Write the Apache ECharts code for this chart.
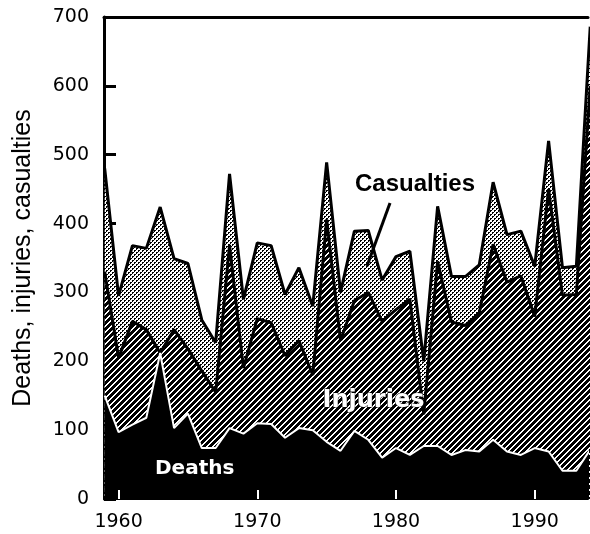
<!DOCTYPE html>
<html>
<head>
<meta charset="utf-8">
<script src="https://cdn.jsdelivr.net/npm/echarts@6/dist/echarts.min.js"></script>
<style>
  html, body { margin: 0; padding: 0; background: #fff; }
  #chart { width: 590px; height: 534px; }
</style>
</head>
<body>
<div id="chart"></div>
<script>
// data, one value per year
var years = [1959, 1960, 1961, 1962, 1963, 1964, 1965, 1966, 1967, 1968, 1969,
             1970, 1971, 1972, 1973, 1974, 1975, 1976, 1977, 1978, 1979,
             1980, 1981, 1982, 1983, 1984, 1985, 1986, 1987, 1988, 1989,
             1990, 1991, 1992, 1993, 1994];
var casualties = [480, 295, 368, 364, 424, 349, 342, 260, 227, 472, 290,
                  372, 368, 297, 336, 280, 489, 300, 389, 390, 318,
                  352, 360, 200, 425, 323, 323, 340, 460, 384, 389,
                  338, 520, 336, 338, 686];
var injuries = [330, 205, 258, 246, 212, 246, 218, 186, 155, 369, 190,
                262, 256, 208, 230, 180, 406, 230, 288, 300, 258,
                275, 290, 123, 345, 257, 252, 270, 370, 315, 324,
                265, 450, 296, 297, 600];
var deaths = [150, 97, 108, 118, 212, 103, 124, 74, 74, 103, 95,
              110, 109, 89, 103, 100, 83, 70, 99, 86, 60,
              74, 64, 77, 77, 64, 71, 69, 86, 69, 64,
              74, 69, 41, 41, 72];
var tickYears = [1960, 1970, 1980, 1990];

function pairs(vals) {
    return years.map(function (y, i) { return [y, vals[i]]; });
}

// stippled grey fill
function dotPattern() {
    var c = document.createElement('canvas');
    c.width = 4; c.height = 4;
    var g = c.getContext('2d');
    g.fillStyle = '#fff';
    g.fillRect(0, 0, 4, 4);
    g.fillStyle = '#000';
    g.fillRect(0, 0, 2, 1);
    g.fillRect(0, 1, 1, 1);
    g.fillRect(2, 2, 2, 1);
    g.fillRect(2, 3, 1, 1);
    return c;
}

// black with thin white "/" stripes
function hatchPattern() {
    var c = document.createElement('canvas');
    c.width = 6; c.height = 6;
    var g = c.getContext('2d');
    g.fillStyle = '#000';
    g.fillRect(0, 0, 6, 6);
    g.fillStyle = '#fff';
    for (var y = 0; y < 6; y++) {
        for (var x = 0; x < 6; x++) {
            var k = (x + y) % 6;
            if (k === 4 || k === 5) g.fillRect(x, y, 1, 1);
        }
    }
    return c;
}

var numFont = 'DejaVu Sans';
var chart = echarts.init(document.getElementById('chart'));

var option = {
    animation: false,
    backgroundColor: '#fff',
    grid: { left: 104, top: 17, width: 484, height: 482 },
    xAxis: [{
        type: 'value',
        min: 1958.95,
        max: 1993.84,
        z: 10,
        splitLine: { show: false },
        axisLine: { lineStyle: { color: '#000', width: 2 } },
        axisTick: { inside: true, length: 9, customValues: tickYears,
                    lineStyle: { color: '#fff', width: 2 } },
        axisLabel: { customValues: tickYears, margin: 14, color: '#000',
                     fontFamily: numFont, fontSize: 19,
                     formatter: function (v) { return String(v); } }
    }, {
        type: 'value',
        position: 'top',
        min: 1958.95,
        max: 1993.84,
        splitLine: { show: false },
        axisLine: { lineStyle: { color: '#000', width: 3 } },
        axisTick: { show: false },
        axisLabel: { show: false }
    }],
    yAxis: {
        type: 'value',
        min: 0,
        max: 700,
        interval: 100,
        name: 'Deaths, injuries, casualties',
        nameLocation: 'middle',
        nameGap: 68,
        nameTextStyle: { color: '#000', fontFamily: 'Liberation Sans', fontSize: 25 },
        splitLine: { show: false },
        axisLine: { show: true, lineStyle: { color: '#000', width: 3 } },
        axisTick: { show: true, inside: true, length: 12, lineStyle: { color: '#000', width: 3 } },
        axisLabel: { margin: 15, color: '#000', fontFamily: numFont, fontSize: 19 }
    },
    series: [{
        name: 'Casualties',
        type: 'line',
        data: pairs(casualties),
        symbol: 'none',
        lineStyle: { color: '#000', width: 3 },
        areaStyle: { color: { image: dotPattern(), repeat: 'repeat' }, opacity: 1 },
        z: 2
    }, {
        name: 'Injuries',
        type: 'line',
        data: pairs(injuries),
        symbol: 'none',
        lineStyle: { color: '#000', width: 3 },
        areaStyle: { color: { image: hatchPattern(), repeat: 'repeat' }, opacity: 1 },
        z: 3
    }, {
        name: 'Deaths',
        type: 'line',
        data: pairs(deaths),
        symbol: 'none',
        lineStyle: { color: '#fff', width: 2 },
        areaStyle: { color: '#000', opacity: 1 },
        z: 4
    }],
    graphic: [{
        type: 'text', left: 355, top: 172, z: 20,
        style: { text: 'Casualties', fill: '#000', fontFamily: 'Liberation Sans',
                 fontWeight: 'bold', fontSize: 24 }
    }, {
        type: 'line', z: 20,
        shape: { x1: 390, y1: 203, x2: 367, y2: 266 },
        style: { stroke: '#000', lineWidth: 3 }
    }, {
        type: 'text', left: 322, top: 388, z: 20,
        style: { text: 'Injuries', fill: '#fff', fontFamily: 'DejaVu Sans',
                 fontWeight: 'bold', fontSize: 24, stroke: '#000', lineWidth: 1 }
    }, {
        type: 'text', left: 155, top: 459, z: 20,
        style: { text: 'Deaths', fill: '#fff', fontFamily: 'DejaVu Sans',
                 fontWeight: 'bold', fontSize: 20 }
    }]
};

chart.setOption(option);
</script>
</body>
</html>
